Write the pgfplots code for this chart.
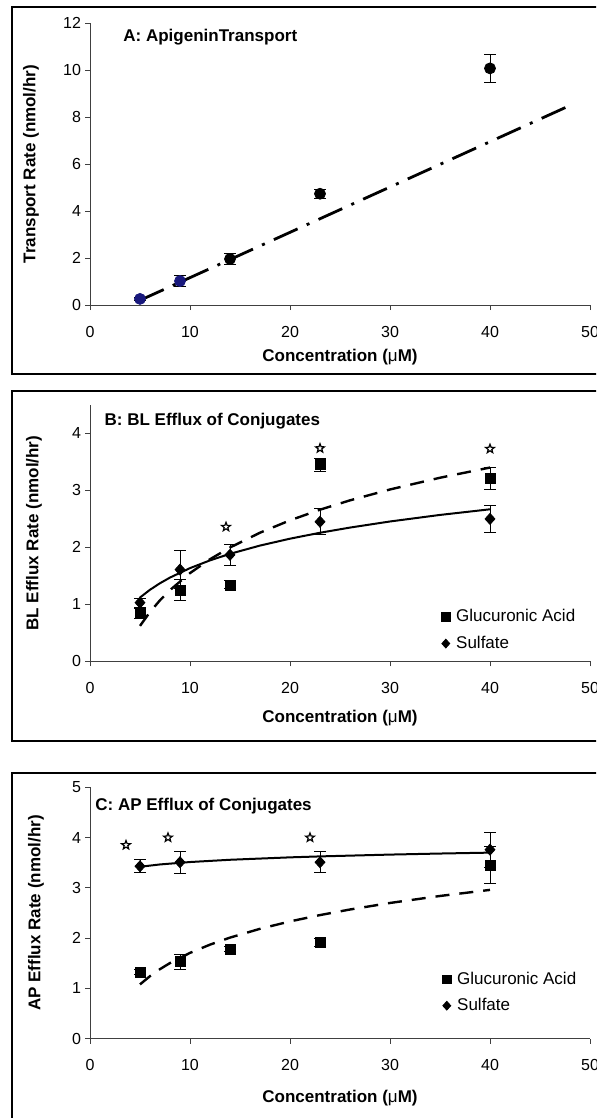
\documentclass[border=0pt]{standalone}
\usepackage{fontspec}
\setmainfont{Liberation Sans}
\usepackage{pgfplots}
\pgfplotsset{compat=1.18}

\definecolor{ptblue}{RGB}{25,25,125}

% open five-point star for the significance marks
\pgfdeclareplotmark{ostar}{%
  \pgfpathmoveto{\pgfpointpolar{90}{\pgfplotmarksize}}%
  \pgfpathlineto{\pgfpointpolar{126}{0.42\pgfplotmarksize}}%
  \pgfpathlineto{\pgfpointpolar{162}{\pgfplotmarksize}}%
  \pgfpathlineto{\pgfpointpolar{198}{0.42\pgfplotmarksize}}%
  \pgfpathlineto{\pgfpointpolar{234}{\pgfplotmarksize}}%
  \pgfpathlineto{\pgfpointpolar{270}{0.42\pgfplotmarksize}}%
  \pgfpathlineto{\pgfpointpolar{306}{\pgfplotmarksize}}%
  \pgfpathlineto{\pgfpointpolar{342}{0.42\pgfplotmarksize}}%
  \pgfpathlineto{\pgfpointpolar{18}{\pgfplotmarksize}}%
  \pgfpathlineto{\pgfpointpolar{54}{0.42\pgfplotmarksize}}%
  \pgfpathclose
  \pgfusepathqfillstroke}

\tikzset{ttl/.style={anchor=west, inner sep=0pt, font=\bfseries\fontsize{8.5}{10}\selectfont}}

\pgfplotsset{
  panel/.style={
    scale only axis, width=250pt, anchor=south west,
    axis lines*=left,
    axis line style={black!75, line width=0.5pt},
    tick style={black!75, line width=0.5pt},
    tick align=outside, major tick length=2.5pt,
    xmin=0, xmax=50, xtick={0,10,...,50}, ymin=0,
    /pgf/number format/assume math mode=true,
    ticklabel style={font=\fontsize{8}{9}\selectfont},
    xticklabel style={yshift=-4.5pt},
    yticklabel style={xshift=1.5pt},
    label style={font=\bfseries\fontsize{8.5}{10}\selectfont},
    xlabel={Concentration ({\mdseries μ}M)},
    ylabel style={anchor=center},
    xlabel style={anchor=center},
    clip=false,
  },
  errs/.style={
    error bars/.cd, y dir=both, y explicit,
    error bar style={black, line width=0.5pt},
    error mark options={rotate=90, mark size=3pt, line width=0.5pt, black},
  },
  legstyle/.style={
    legend style={draw=none, fill=none, inner sep=0pt, row sep=3.5pt,
      font=\fontsize{8.5}{10}\selectfont,
      nodes={inner sep=1pt},
      /tikz/every odd column/.append style={column sep=2pt}},
    legend cell align=left,
    legend image code/.code={\draw[##1, mark size=2.2pt] plot coordinates {(0pt,0pt)};},
  },
  sqr/.style={only marks, mark=square*, mark size=2.5pt, black, mark options={fill=black}},
  dia/.style={only marks, mark=diamond*, mark size=2.75pt, black, mark options={fill=black, xscale=1.2}},
  sigstar/.style={only marks, mark=ostar, mark size=2.3pt, mark options={fill=white, draw=black, line width=0.6pt}},
  fitdash/.style={black, line width=1.2pt, dash pattern=on 7pt off 5pt},
  fitsolid/.style={black, line width=1pt},
}

\begin{document}
\begin{tikzpicture}
\path[use as bounding box, clip] (0pt,0pt) rectangle (298pt,-559pt);

% panel frames
\draw[line width=1pt] (6pt,-3.65pt) rectangle (312pt,-187pt);
\draw[line width=1pt] (6pt,-195.25pt) rectangle (312pt,-370.65pt);
\draw[line width=1pt] (6pt,-386.5pt) rectangle (312pt,-575pt);

% ---------- A ----------
\begin{axis}[panel, at={(45pt,-152.5pt)}, height=140.85pt,
    ymax=12, ytick={0,2,...,12},
    ylabel={Transport Rate (nmol/hr)},
    ylabel style={at={(axis description cs:-0.118,0.5)}},
    xlabel style={at={(axis description cs:0.5,-0.184)}}]
\addplot[only marks, mark=*, mark size=2.75pt, ptblue, mark options={fill=ptblue}, errs]
  coordinates {(5,0.26) +- (0,0.05) (9,1.02) +- (0,0.23)};
\addplot[only marks, mark=*, mark size=2.75pt, black, errs]
  coordinates {(14,1.96) +- (0,0.25) (23,4.74) +- (0,0.2) (40,10.08) +- (0,0.61)};
\addplot[black, line width=1.4pt, dash pattern=on 13pt off 5pt on 1.5pt off 5pt]
  coordinates {(5,0.2) (48,8.5)};
\node[ttl] at (axis cs:3.3,11.39) {A: ApigeninTransport};
\end{axis}

% ---------- B ----------
\begin{axis}[panel, legstyle, at={(45pt,-330.65pt)}, height=128.15pt,
    ymax=4.5, ytick={0,1,2,3,4},
    ylabel={BL Efflux Rate (nmol/hr)},
    ylabel style={at={(axis description cs:-0.112,0.5)}},
    xlabel style={at={(axis description cs:0.5,-0.222)}},
    legend style={at={(axis cs:35.1,0.95)}, anchor=north west}]
\addplot[sqr, errs] coordinates {
  (5,0.84) +- (0,0.08) (9,1.25) +- (0,0.19) (14,1.34) +- (0,0.07)
  (23,3.45) +- (0,0.11) (40,3.21) +- (0,0.2)};
\addlegendentry{Glucuronic Acid}
\addplot[dia, errs] coordinates {
  (5,1.03) +- (0,0.08) (9,1.61) +- (0,0.33) (14,1.87) +- (0,0.18)
  (23,2.45) +- (0,0.23) (40,2.5) +- (0,0.24)};
\addlegendentry{Sulfate}
\addplot[fitsolid, forget plot] coordinates {
  (5,1.120) (6,1.256) (7,1.371) (8,1.470) (10,1.636) (12,1.772) (14,1.887)
  (17,2.032) (20,2.153) (23,2.257) (26,2.348) (30,2.455) (35,2.570) (40,2.669)};
\addplot[fitdash, forget plot] coordinates {
  (5,0.622) (6,0.866) (7,1.072) (8,1.250) (10,1.549) (12,1.792) (14,1.998)
  (17,2.258) (20,2.475) (23,2.662) (26,2.826) (30,3.017) (35,3.223) (40,3.402)};
\addplot[sigstar, forget plot] coordinates {(13.6,2.36) (23,3.74) (40,3.73)};
\node[ttl] at (axis cs:1.43,4.22) {B: BL Efflux of Conjugates};
\end{axis}

% ---------- C ----------
\begin{axis}[panel, legstyle, at={(45pt,-519.35pt)}, height=125.7pt,
    ymax=5, ytick={0,1,...,5},
    ylabel={AP Efflux Rate (nmol/hr)},
    ylabel style={at={(axis description cs:-0.108,0.5)}},
    xlabel style={at={(axis description cs:0.5,-0.235)}},
    legend style={at={(axis cs:35.2,1.38)}, anchor=north west}]
\addplot[sqr, errs] coordinates {
  (5,1.32) +- (0,0.05) (9,1.53) +- (0,0.15) (14,1.78) +- (0,0.05)
  (23,1.91) +- (0,0.08) (40,3.45) +- (0,0.37)};
\addlegendentry{Glucuronic Acid}
\addplot[dia, errs] coordinates {
  (5,3.43) +- (0,0.13) (9,3.51) +- (0,0.22) (23,3.51) +- (0,0.21)
  (40,3.76) +- (0,0.35)};
\addlegendentry{Sulfate}
\addplot[fitsolid, forget plot] coordinates {
  (5,3.420) (7,3.466) (10,3.514) (14,3.559) (20,3.607) (23,3.626)
  (30,3.662) (35,3.683) (40,3.701)};
\addplot[fitdash, forget plot] coordinates {
  (5,1.080) (6,1.245) (7,1.384) (8,1.505) (10,1.707) (12,1.871) (14,2.011)
  (17,2.186) (20,2.333) (23,2.459) (26,2.570) (30,2.700) (35,2.839) (40,2.960)};
\addplot[sigstar, forget plot] coordinates {(3.6,3.85) (7.8,4.0) (22.0,4.0)};
\node[ttl] at (axis cs:0.5,4.63) {C: AP Efflux of Conjugates};
\end{axis}
\end{tikzpicture}
\end{document}
